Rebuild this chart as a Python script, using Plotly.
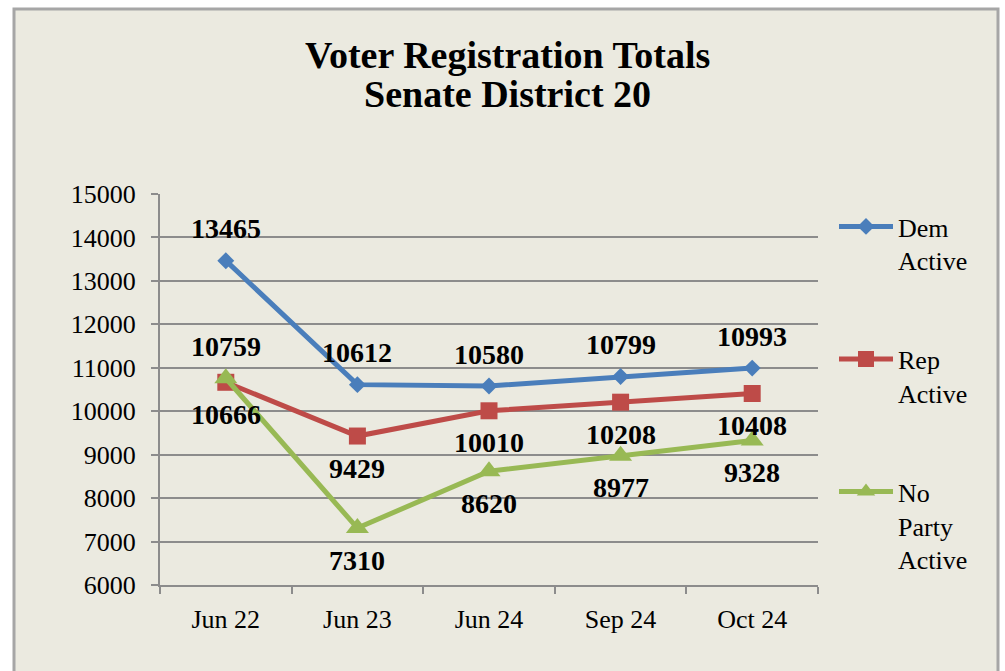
import plotly.graph_objects as go

# Registration snapshots
periods = ["Jun 22", "Jun 23", "Jun 24", "Sep 24", "Oct 24"]
dem_active = [13465, 10612, 10580, 10799, 10993]
rep_active = [10666, 9429, 10010, 10208, 10408]
no_party_active = [10759, 7310, 8620, 8977, 9328]

y_ticks = [6000, 7000, 8000, 9000, 10000, 11000, 12000, 13000, 14000, 15000]

W, H = 1005, 671
L, R, T, B = 160, 187, 194, 86
PW, PH = W - L - R, H - T - B


def px_x(x):
    return (x - L) / PW


def px_y(y):
    return (H - B - y) / PH


FONT = "Liberation Serif, Times New Roman, serif"
BG = "#EBEAE0"
GRID = "#8C8C8C"

series = [
    ("Dem<br>Active", dem_active, "#4A7EBB", "diamond", 13, [1, 1, 1, 1, 1]),
    ("Rep<br>Active", rep_active, "#BE4B48", "square", 17, [-1, -1, -1, -1, -1]),
    ("No<br>Party<br>Active", no_party_active, "#98B954", "triangle-up", 20, [1, -1, -1, -1, -1]),
]

fig = go.Figure()
annotations = []
for i, (name, vals, color, sym, msize, sides) in enumerate(series):
    fig.add_trace(go.Scatter(
        x=periods, y=vals, name=name, mode="lines+markers",
        line=dict(color=color, width=5),
        marker=dict(symbol=sym, size=msize, color=color),
        legendgroup=f"g{i}",
    ))
    for p, v, s in zip(periods, vals, sides):
        annotations.append(dict(
            x=p, y=v, xref="x", yref="y", text=f"<b>{v}</b>", showarrow=False,
            yshift=32 * s, font=dict(family=FONT, size=28, color="black"),
        ))

annotations += [
    dict(x=px_x(507), y=px_y(55), xref="paper", yref="paper",
         xanchor="center", yanchor="middle",
         text="<b>Voter Registration Totals</b>", showarrow=False,
         font=dict(family=FONT, size=38, color="black")),
    dict(x=px_x(507), y=px_y(94), xref="paper", yref="paper",
         xanchor="center", yanchor="middle",
         text="<b>Senate District 20</b>", showarrow=False,
         font=dict(family=FONT, size=38, color="black")),
]

fig.update_layout(
    width=W, height=H,
    margin=dict(l=L, r=R, t=T, b=B, pad=0),
    paper_bgcolor="white",
    plot_bgcolor="rgba(0,0,0,0)",
    showlegend=True,
    legend=dict(
        x=px_x(834), y=px_y(203), xanchor="left", yanchor="top",
        font=dict(family=FONT, size=26, color="black"),
        bgcolor="rgba(0,0,0,0)", valign="top",
        tracegroupgap=62, itemwidth=54,
    ),
    annotations=annotations,
    shapes=[dict(
        type="rect", xref="paper", yref="paper", layer="below",
        x0=px_x(14), x1=px_x(998), y0=px_y(690), y1=px_y(9),
        line=dict(color="#A6A6A6", width=3), fillcolor=BG,
    )],
)

fig.update_xaxes(
    type="category", range=[-0.5, 4.5],
    showgrid=False, showline=True, linecolor=GRID, linewidth=2,
    ticks="outside", tickson="boundaries", ticklen=7, tickwidth=2, tickcolor=GRID,
    tickfont=dict(family=FONT, size=26, color="black"),
    ticklabelstandoff=10,
)
fig.update_yaxes(
    range=[6000, 15000], tickvals=y_ticks, ticktext=[str(v) for v in y_ticks],
    showgrid=True, gridcolor=GRID, gridwidth=2,
    showline=True, linecolor=GRID, linewidth=2,
    ticks="outside", ticklen=7, tickwidth=2, tickcolor=GRID,
    tickfont=dict(family=FONT, size=26, color="black"),
    ticklabelstandoff=10, zeroline=False,
)

fig.write_html("out.html")
